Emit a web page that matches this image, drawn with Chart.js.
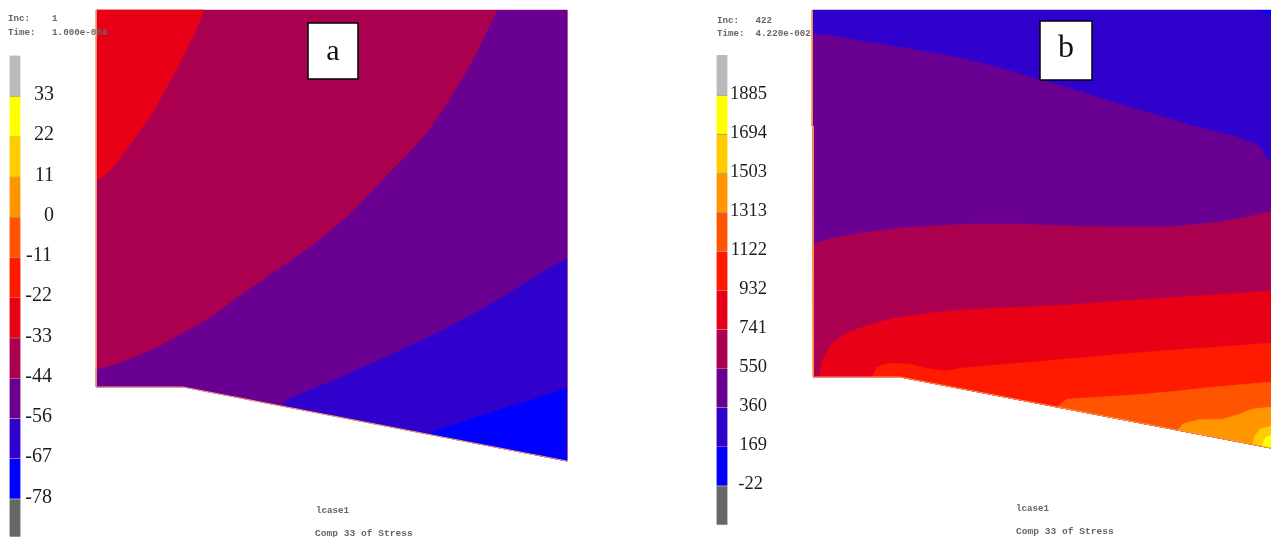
<!DOCTYPE html>
<html>
<head>
<meta charset="utf-8">
<title>Comp 33 of Stress</title>
<script src="https://cdn.jsdelivr.net/npm/chart.js@4"></script>
<style>
    html, body { margin: 0; padding: 0; background: #fff; }
    canvas { display: block; }
</style>
</head>
<body>
<canvas id="contour-chart" width="1271" height="537"></canvas>
<script>
// band colours, top of the colour bar to the bottom
const bandColors = ["#bababa", "#ffff00", "#ffcc00", "#ff9600", "#ff5500", "#ff1a00",
    "#e80017", "#aa004f", "#690092", "#3000cc", "#0000ff", "#666866"];

// colour bar levels
const levelsA = [44.7, 33.3, 22.2, 11.1, 0, -11.1, -22.2, -33.3, -44.4, -55.5, -66.6, -77.7, -88.1];
const tickLabelsA = ["33", "22", "11", "0", "-11", "-22", "-33", "-44", "-56", "-67", "-78"];
const levelsB = [2084, 1885, 1694, 1503, 1313, 1122, 932, 741, 550, 360, 169, -22, -211];
const tickLabelsB = ["1885", "1694", "1503", "1313", "1122", "932", "741", "550", "360", "169", "-22"];

// contour bands of panel a as [x, y]
const aCrimson = [[96, 10], [567, 10], [567, 461], [183, 387], [96, 387]];
const aRed = [[96, 10], [204, 10], [196, 30], [186, 50], [176, 70], [164, 92], [153, 112], [139, 132],
    [126, 150], [113, 167], [106, 174], [96, 181]];
const aPurple = [[498, 10], [487, 32], [475, 57], [460, 83], [443, 110], [427, 133], [407, 155], [380, 183],
    [347, 217], [313, 245], [273, 273], [230, 303], [217, 313], [200, 324], [183, 333], [162, 345], [140, 355],
    [118, 364], [96, 370], [96, 387], [183, 387], [567, 461], [567, 10]];
const aIndigo = [[567, 258], [530, 280], [498, 300], [468, 317], [437, 333], [397, 352], [357, 370], [320, 386],
    [290, 398], [282, 405], [567, 461]];
const aBlue = [[567, 388], [522, 403], [477, 417], [437, 430], [430, 434], [567, 461]];
const aEdge = [[96, 10], [96, 387], [183, 387], [567, 461]];

// contour bands of panel b
const bIndigo = [[812, 10], [1271, 10], [1271, 448], [900, 377], [813, 377]];
const bBlue = [[1258, 10], [1271, 15], [1271, 10]];
const bPurple = [[812, 34], [833, 36], [867, 42], [917, 50], [960, 58], [1000, 68], [1040, 80], [1073, 89],
    [1100, 98], [1133, 108], [1167, 118], [1193, 126], [1217, 132], [1237, 137], [1253, 143], [1262, 148],
    [1265, 157], [1271, 161], [1271, 448], [900, 377], [813, 377]];
const bCrimson = [[813, 244], [833, 238], [867, 232], [900, 228], [933, 226], [967, 224], [1017, 224],
    [1067, 226], [1117, 227], [1167, 227], [1200, 224], [1227, 221], [1247, 217], [1271, 211], [1271, 448],
    [900, 377], [813, 377]];
const bRed = [[819, 377], [822, 362], [829, 348], [834, 342], [849, 332], [869, 325], [895, 318], [929, 313],
    [962, 310], [1000, 308], [1067, 305], [1133, 300], [1167, 298], [1271, 291], [1271, 448], [900, 377]];
const bScarlet = [[872, 377], [877, 367], [889, 363], [909, 364], [925, 368], [945, 371], [962, 368], [1033, 362],
    [1133, 353], [1271, 343], [1271, 448], [900, 377]];
const bOrangeRed = [[1057, 407], [1067, 399], [1100, 397], [1133, 395], [1178, 391], [1203, 388], [1237, 385],
    [1271, 382], [1271, 448]];
const bOrange = [[1178, 430], [1183, 424], [1197, 420], [1223, 419], [1237, 415], [1253, 409], [1271, 407], [1271, 448]];
const bGold = [[1253, 444], [1254, 437], [1260, 429], [1271, 426], [1271, 448]];
const bYellow = [[1262, 446], [1265, 438], [1271, 435], [1271, 448]];
const bEdge = [[812, 10], [812, 126], [813, 126], [813, 377], [900, 377], [1271, 448]];

function toPoints(list) {
    return list.map(function (p) {
        return { x: p[0], y: p[1] };
    });
}

function bandDataset(list, color) {
    return {
        type: "scatter",
        showLine: true,
        data: toPoints(list),
        backgroundColor: color,
        borderColor: color,
        borderWidth: 0.5,
        pointRadius: 0,
        fill: "shape"
    };
}

function edgeDataset(list, color) {
    return {
        type: "scatter",
        showLine: true,
        data: toPoints(list),
        borderColor: color,
        borderWidth: 1,
        pointRadius: 0,
        fill: false
    };
}

function colorBarDataset(levels, xPos, axisId) {
    const bars = [];
    for (let i = 0; i < levels.length - 1; i++) {
        bars.push({ x: xPos, y: [levels[i + 1], levels[i]] });
    }
    return {
        type: "bar",
        yAxisID: axisId,
        data: bars,
        grouped: false,
        barThickness: 11,
        backgroundColor: bandColors,
        borderColor: "rgba(70, 30, 0, 0.45)",
        borderWidth: { top: 0, left: 0, right: 0, bottom: 1 },
        borderSkipped: false
    };
}

const c = {
    crimson: bandColors[7], red: bandColors[6], purple: bandColors[8], indigo: bandColors[9], blue: bandColors[10],
    scarlet: bandColors[5], orangeRed: bandColors[4], orange: bandColors[3], gold: bandColors[2], yellow: bandColors[1]
};

function drawScaleLabels(chart, ctx, levels, labels, axisId, rightX, negRightX, lift, font) {
    const scale = chart.scales[axisId];
    ctx.save();
    ctx.filter = "blur(0.3px)";
    ctx.font = font;
    ctx.fillStyle = "#1c1c1c";
    ctx.textBaseline = "middle";
    ctx.textAlign = "right";
    labels.forEach(function (text, i) {
        const y = scale.getPixelForValue(levels[i + 1]) - lift;
        ctx.fillText(text, text.charAt(0) === "-" ? negRightX : rightX, y);
    });
    ctx.restore();
}

function drawTag(ctx, left, top, width, height, text, fontSize, lift) {
    ctx.fillStyle = "#fff";
    ctx.strokeStyle = "#000";
    ctx.lineWidth = 1.5;
    ctx.fillRect(left, top, width, height);
    ctx.strokeRect(left, top, width, height);
    ctx.fillStyle = "#111";
    ctx.font = fontSize + 'px "Liberation Serif"';
    ctx.textAlign = "center";
    ctx.textBaseline = "middle";
    ctx.fillText(text, left + width / 2, top + height / 2 - lift);
}

function drawSmallText(ctx, fontSize, lines) {
    ctx.save();
    ctx.filter = "blur(0.6px)";
    ctx.font = "bold " + fontSize + 'px "Liberation Mono"';
    ctx.fillStyle = "#666";
    ctx.textAlign = "left";
    ctx.textBaseline = "middle";
    lines.forEach(function (line) {
        ctx.fillText(line[0], line[1], line[2]);
    });
    ctx.restore();
}

const textPlugin = {
    id: "panelText",
    afterDraw: function (chart) {
        const ctx = chart.ctx;
        ctx.save();
        drawScaleLabels(chart, ctx, levelsA, tickLabelsA, "valA", 54, 52, 2, '20px "Liberation Serif"');
        drawScaleLabels(chart, ctx, levelsB, tickLabelsB, "valB", 767, 763, 2, '18.5px "Liberation Serif"');
        drawTag(ctx, 308, 23, 50, 56, "a", 30, -1);
        drawTag(ctx, 1040, 21, 52, 59, "b", 32, 2);
        drawSmallText(ctx, 9.2, [
            ["Inc:    1", 8, 19],
            ["Time:   1.000e-004", 8, 33],
            ["Inc:   422", 717, 21],
            ["Time:  4.220e-002", 717, 34],
            ["lcase1", 316, 511],
            ["lcase1", 1016, 509]
        ]);
        drawSmallText(ctx, 9.6, [
            ["Comp 33 of Stress", 315, 534],
            ["Comp 33 of Stress", 1016, 532]
        ]);
        ctx.restore();
    }
};

// Chart.js paints the first dataset last, so the list runs from top layer to bottom layer
new Chart(document.getElementById("contour-chart"), {
    type: "scatter",
    data: {
        datasets: [
            colorBarDataset(levelsA, 15, "valA"),
            colorBarDataset(levelsB, 722, "valB"),
            edgeDataset(aEdge, "#f2a27a"),
            bandDataset(aBlue, c.blue),
            bandDataset(aIndigo, c.indigo),
            bandDataset(aPurple, c.purple),
            bandDataset(aRed, c.red),
            bandDataset(aCrimson, c.crimson),
            edgeDataset(bEdge, "#ff9f4a"),
            bandDataset(bYellow, c.yellow),
            bandDataset(bGold, c.gold),
            bandDataset(bOrange, c.orange),
            bandDataset(bOrangeRed, c.orangeRed),
            bandDataset(bScarlet, c.scarlet),
            bandDataset(bRed, c.red),
            bandDataset(bCrimson, c.crimson),
            bandDataset(bPurple, c.purple),
            bandDataset(bBlue, c.blue),
            bandDataset(bIndigo, c.indigo)
        ]
    },
    options: {
        responsive: false,
        animation: false,
        events: [],
        layout: { padding: 0 },
        plugins: {
            legend: { display: false },
            tooltip: { enabled: false }
        },
        scales: {
            x: { type: "linear", min: 0, max: 1271, offset: false, display: false },
            y: { type: "linear", min: 0, max: 537, reverse: true, display: false },
            valA: { type: "linear", min: -88.1, max: 60, display: false },
            valB: { type: "linear", min: -270, max: 2352, display: false }
        }
    },
    plugins: [textPlugin]
});
</script>
</body>
</html>
